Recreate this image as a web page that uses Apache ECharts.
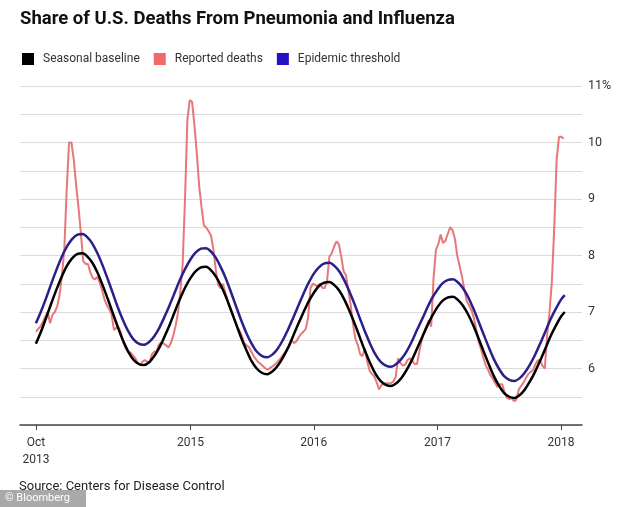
<!DOCTYPE html>
<html>
<head>
<meta charset="utf-8">
<script src="https://cdn.jsdelivr.net/npm/echarts@6/dist/echarts.min.js"></script>
<style>
html,body{margin:0;padding:0;background:#fff;}
#chart{width:640px;height:507px;}
</style>
</head>
<body>
<div id="chart"></div>
<script>
// ---- Data ----
var seriesNames = ['Seasonal baseline', 'Reported deaths', 'Epidemic threshold'];

// Reported deaths, weekly from Oct 1, 2013 (% of all deaths)
var reportedDeaths = [
 6.65,6.70,6.75,6.83,6.92,7.00,6.80,6.95,7.00,7.10,
 7.30,7.65,8.10,9.15,10.00,10.00,9.70,9.25,8.85,8.40,
 7.90,7.85,7.85,7.70,7.60,7.58,7.62,7.52,7.38,7.22,
 7.12,7.05,6.95,6.68,6.72,6.73,6.62,6.45,6.35,6.30,
 6.28,6.23,6.18,6.10,6.07,6.12,6.15,6.12,6.10,6.25,
 6.30,6.30,6.43,6.46,6.44,6.41,6.37,6.45,6.58,6.75,
 6.98,7.35,7.85,9.00,10.40,10.75,10.72,10.30,9.80,9.22,
 8.85,8.53,8.49,8.43,8.35,8.10,7.75,7.48,7.42,7.50,
 7.35,7.19,7.08,6.97,6.85,6.73,6.67,6.58,6.45,6.41,
 6.38,6.30,6.22,6.16,6.11,6.08,6.04,6.00,5.98,6.01,
 6.04,6.07,6.11,6.16,6.22,6.27,6.33,6.38,6.50,6.45,
 6.48,6.55,6.61,6.65,6.70,6.90,7.42,7.50,7.48,7.45,
 7.50,7.43,7.42,7.55,7.98,8.04,8.16,8.25,8.20,7.98,
 7.72,7.65,7.38,7.12,6.78,6.52,6.42,6.25,6.22,6.36,
 6.12,5.96,5.90,5.86,5.75,5.63,5.71,5.72,5.74,5.74,
 5.74,5.77,5.85,6.18,6.10,6.05,6.07,6.15,6.18,6.14,
 6.08,6.08,6.30,6.50,6.63,6.75,6.85,6.74,7.60,8.10,
 8.20,8.37,8.22,8.26,8.38,8.50,8.45,8.30,8.00,7.82,
 7.63,7.40,7.20,7.12,7.03,6.90,6.70,6.48,6.35,6.20,
 6.06,5.98,5.88,5.82,5.75,5.67,5.72,5.72,5.58,5.48,
 5.46,5.48,5.42,5.45,5.63,5.69,5.75,5.83,5.90,5.94,
 5.97,6.07,6.14,6.15,6.05,6.00,6.60,7.00,7.55,8.50,
 9.70,10.10,10.10,10.07
];

// Seasonal baseline, read on the 1st and 16th of each month (Oct 2013 .. Dec 2017), then Jan 1 and Jan 12, 2018
var seasonalBaseline = [
 6.44,6.65,6.91,7.16,7.40,7.62,
 7.82,7.95,8.03,8.04,7.99,7.88,7.70,7.48,7.24,6.99,6.72,6.49,6.30,6.16,6.08,6.06,6.11,6.22,6.37,6.56,6.78,7.01,7.23,7.43,
 7.60,7.72,7.79,7.80,7.75,7.64,7.47,7.27,7.03,6.79,6.53,6.32,6.13,6.00,5.92,5.90,5.95,6.05,6.19,6.36,6.58,6.79,6.99,7.18,
 7.34,7.46,7.52,7.53,7.48,7.38,7.21,7.01,6.79,6.55,6.30,6.09,5.91,5.78,5.71,5.69,5.74,5.83,5.97,6.14,6.35,6.55,6.75,6.93,
 7.09,7.20,7.26,7.27,7.22,7.12,6.96,6.77,6.55,6.32,6.08,5.87,5.70,5.57,5.50,5.48,5.53,5.63,5.77,5.94,6.15,6.36,6.57,6.75,
 6.92,7.00
];

// Epidemic threshold, same dates as the baseline
var epidemicThreshold = [
 6.80,7.01,7.26,7.51,7.75,7.97,
 8.16,8.29,8.37,8.38,8.33,8.22,8.04,7.83,7.59,7.34,7.07,6.85,6.66,6.52,6.44,6.42,6.47,6.57,6.72,6.91,7.13,7.35,7.57,7.76,
 7.93,8.05,8.12,8.13,8.08,7.97,7.79,7.59,7.35,7.10,6.84,6.62,6.44,6.30,6.22,6.20,6.25,6.35,6.50,6.68,6.90,7.11,7.32,7.51,
 7.68,7.79,7.86,7.87,7.82,7.72,7.55,7.35,7.13,6.89,6.64,6.43,6.25,6.12,6.05,6.03,6.08,6.17,6.30,6.47,6.68,6.87,7.07,7.25,
 7.40,7.51,7.57,7.58,7.53,7.43,7.27,7.07,6.85,6.62,6.38,6.17,6.00,5.87,5.80,5.78,5.83,5.93,6.07,6.24,6.45,6.66,6.87,7.05,
 7.22,7.30
];

// X tick labels
var xTickDates = ['2013-10-01', '2015-01-01', '2016-01-01', '2017-01-01', '2018-01-01'];
var xTickLabels = ['Oct\n2013', '2015', '2016', '2017', '2018'];
var yTickValues = [6, 7, 8, 9, 10, 11];

// ---- Build dates (timestamps on a value axis) ----
var DAY = 86400000;
function utc(s){ var p = s.split('-'); return Date.UTC(+p[0], +p[1]-1, +p[2]); }
var weekStart = Date.UTC(2013, 9, 1);
var reportedData = reportedDeaths.map(function(v, i){ return [weekStart + i*7*DAY, v]; });
var halfMonthDates = [];
for (var m = 0; m < 51; m++) {
  halfMonthDates.push(Date.UTC(2013, 9 + m, 1));
  halfMonthDates.push(Date.UTC(2013, 9 + m, 16));
}
halfMonthDates.push(Date.UTC(2018, 0, 1));
halfMonthDates.push(Date.UTC(2018, 0, 12));
var baselineData = seasonalBaseline.map(function(v, i){ return [halfMonthDates[i], v]; });
var thresholdData = epidemicThreshold.map(function(v, i){ return [halfMonthDates[i], v]; });
var tickTs = xTickDates.map(utc);

var chart = echarts.init(document.getElementById('chart'), null, {renderer: 'canvas'});
var FONT = 'Roboto, "Liberation Sans", Arial, sans-serif';

chart.setOption({
  animation: false,
  backgroundColor: '#fff',
  textStyle: {fontFamily: FONT},
  title: {
    text: 'Share of U.S. Deaths From Pneumonia and Influenza',
    left: 15, top: 5,
    textStyle: {fontFamily: FONT, fontWeight: 700, fontSize: 18.5, color: '#111'}
  },
  legend: {
    data: seriesNames,
    left: 17, top: 48,
    itemWidth: 12, itemHeight: 12, itemGap: 14,
    icon: 'rect',
    textStyle: {fontFamily: FONT, fontSize: 12, color: '#333', padding: [0, 0, 0, 4]}
  },
  grid: {left: 20, right: 58, top: 86, bottom: 82, containLabel: false},
  xAxis: {
    type: 'value',
    min: Date.UTC(2013, 7, 15),
    max: Date.UTC(2018, 2, 4),
    splitLine: {show: false},
    axisLine: {show: true, lineStyle: {color: '#444', width: 1.5}},
    axisTick: {show: true, customValues: tickTs, length: 5, lineStyle: {color: '#444', width: 1}},
    axisLabel: {
      customValues: tickTs,
      color: '#333', fontSize: 12, fontFamily: FONT, lineHeight: 17, margin: 9,
      align: 'center',
      formatter: function(v){
        for (var i = 0; i < tickTs.length; i++) { if (Math.abs(tickTs[i] - v) < DAY) return xTickLabels[i]; }
        return '';
      }
    }
  },
  yAxis: {
    type: 'value',
    position: 'right',
    min: 5, max: 11, interval: 0.5,
    axisLine: {show: false},
    axisTick: {show: false},
    splitLine: {show: true, lineStyle: {color: '#dcdcdc', width: 1}},
    axisLabel: {
      customValues: yTickValues,
      margin: 6, color: '#333', fontSize: 12.5, fontFamily: FONT,
      formatter: function(v){ return v === 11 ? '11%' : String(v); }
    }
  },
  series: [
    {
      name: 'Reported deaths', type: 'line', data: reportedData,
      showSymbol: false, symbol: 'none', z: 2,
      itemStyle: {color: '#f0696f'},
      lineStyle: {color: '#e8777a', width: 2}
    },
    {
      name: 'Seasonal baseline', type: 'line', data: baselineData,
      showSymbol: false, symbol: 'none', smooth: 0.3, z: 3,
      itemStyle: {color: '#000'},
      lineStyle: {color: '#000', width: 2.5}
    },
    {
      name: 'Epidemic threshold', type: 'line', data: thresholdData,
      showSymbol: false, symbol: 'none', smooth: 0.3, z: 4,
      itemStyle: {color: '#2412c4'},
      lineStyle: {color: '#2b1f8a', width: 2.5}
    }
  ],
  graphic: [
    {
      type: 'text', left: 19, top: 480,
      style: {text: 'Source: Centers for Disease Control', font: '13px ' + FONT, fill: '#222'}
    },
    {
      type: 'group', left: 0, top: 490,
      children: [
        {type: 'rect', shape: {x: 0, y: 0, width: 86, height: 17}, style: {fill: 'rgba(140,140,140,0.75)'}},
        {type: 'text', x: 5, y: 3, style: {text: '\u00A9 Bloomberg', font: '11px ' + FONT, fill: '#fff'}}
      ]
    }
  ]
});
</script>
</body>
</html>
